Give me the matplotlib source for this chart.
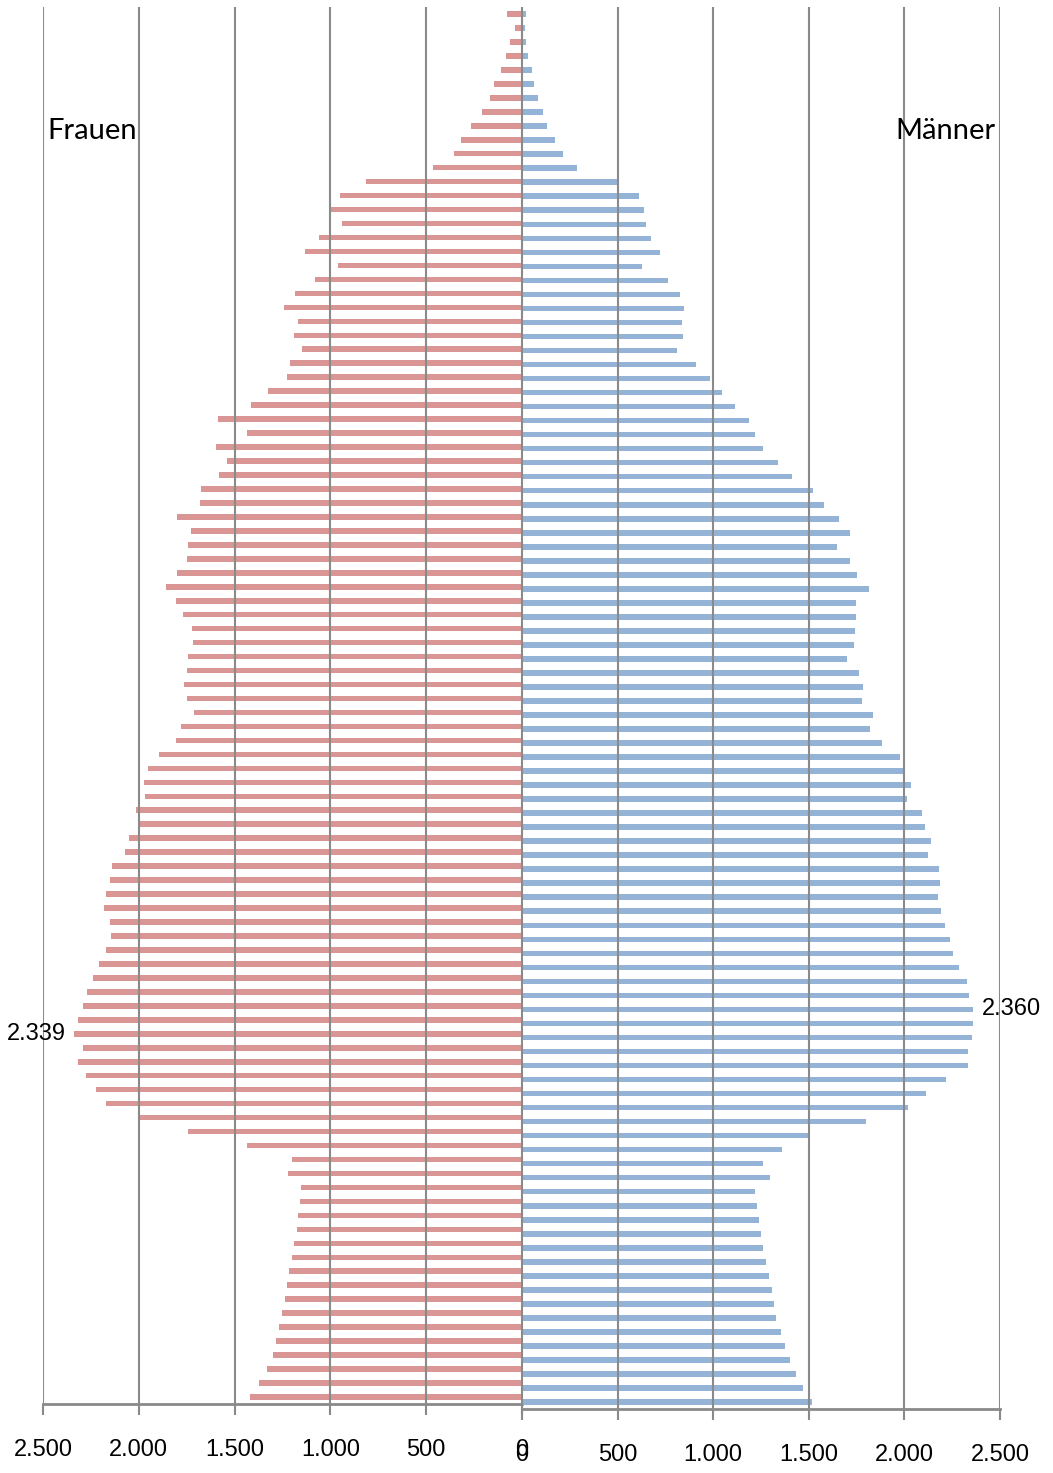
import numpy as np
import matplotlib
matplotlib.use("Agg")
import matplotlib.pyplot as plt

# Alter von oben (99) nach unten (0)
alter = list(range(99, -1, -1))

frauen = [
    76, 37, 63, 81, 109, 144, 169, 208, 264, 317,
    354, 465, 812, 952, 995, 938, 1060, 1134, 960, 1081,
    1185, 1243, 1171, 1188, 1146, 1211, 1227, 1326, 1412, 1586,
    1433, 1599, 1541, 1583, 1673, 1680, 1801, 1727, 1743, 1748,
    1803, 1857, 1805, 1768, 1722, 1718, 1745, 1746, 1764, 1746,
    1713, 1778, 1806, 1893, 1954, 1972, 1970, 2016, 1998, 2049,
    2070, 2141, 2148, 2173, 2180, 2150, 2146, 2173, 2208, 2238,
    2269, 2292, 2317, 2339, 2289, 2317, 2276, 2225, 2169, 1995,
    1741, 1437, 1202, 1220, 1153, 1157, 1169, 1176, 1190, 1202,
    1217, 1229, 1239, 1254, 1269, 1282, 1301, 1331, 1372, 1419,
]

maenner = [
    20, 14, 22, 32, 50, 63, 82, 109, 131, 172,
    215, 290, 498, 613, 636, 649, 677, 720, 625, 763,
    826, 846, 835, 840, 812, 909, 982, 1045, 1116, 1186,
    1220, 1260, 1339, 1414, 1520, 1577, 1659, 1713, 1645, 1715,
    1754, 1814, 1747, 1747, 1740, 1738, 1699, 1760, 1783, 1778,
    1837, 1821, 1882, 1977, 1998, 2037, 2016, 2093, 2107, 2138,
    2124, 2179, 2186, 2174, 2192, 2211, 2236, 2256, 2287, 2328,
    2339, 2360, 2358, 2351, 2335, 2333, 2217, 2111, 2020, 1797,
    1500, 1358, 1263, 1296, 1220, 1228, 1240, 1251, 1263, 1278,
    1294, 1308, 1319, 1331, 1353, 1378, 1401, 1432, 1471, 1518,
]

ticks = [0, 500, 1000, 1500, 2000, 2500]
tick_labels = ["0", "500", "1.000", "1.500", "2.000", "2.500"]

col_f = "#D99694"
col_m = "#95B3D7"
grid_col = "#8a8a8a"
narrow = ["Liberation Sans", "DejaVu Sans"]
num_size = 17

W, H = 1053, 1473
fig = plt.figure(figsize=(W / 100, H / 100), dpi=100)

# two charts placed side by side (in pixel coordinates)
ax_f = fig.add_axes([43 / W, 1 - 1404 / H, (522 - 43) / W, (1404 - 7) / H])
ax_m = fig.add_axes([522 / W, 1 - 1409 / H, (1000 - 522) / W, (1409 - 7) / H])
ax_f.patch.set_alpha(0)
ax_m.patch.set_alpha(0)

y = np.arange(len(alter))
ax_f.barh(y, frauen, height=0.4, color=col_f, zorder=1)
ax_m.barh(y, maenner, height=0.4, color=col_m, zorder=1)

ax_f.set_xlim(2500, 0)
ax_m.set_xlim(0, 2500)

for ax in (ax_f, ax_m):
    ax.set_ylim(len(alter) - 0.5, -0.5)
    ax.set_yticks([])
    ax.set_xticks(ticks)
    ax.set_xticklabels(tick_labels, family=narrow, fontsize=num_size)
    ax.tick_params(axis="x", length=8, width=1.5, color=grid_col, pad=17)
    ax.grid(axis="x", color=grid_col, linewidth=1.5, zorder=3)
    ax.set_axisbelow(False)
    for side in ("top", "left", "right"):
        ax.spines[side].set_visible(False)
    ax.spines["bottom"].set_color(grid_col)
    ax.spines["bottom"].set_linewidth(2)

# data labels at the maxima
i_f = int(np.argmax(frauen))
ax_f.annotate(f"{frauen[i_f]:,}".replace(",", "."), xy=(frauen[i_f], y[i_f]),
              xytext=(-6, 0), textcoords="offset points", ha="right", va="center",
              family=narrow, fontsize=num_size, annotation_clip=False)
i_m = int(np.argmax(maenner))
ax_m.annotate(f"{maenner[i_m]:,}".replace(",", "."), xy=(maenner[i_m], y[i_m]),
              xytext=(6, 0), textcoords="offset points", ha="left", va="center",
              family=narrow, fontsize=num_size, annotation_clip=False)

fig.text(47 / W, 1 - 131 / H, "Frauen", family=["Lato", "DejaVu Sans"], fontsize=21,
         ha="left", va="center")
fig.text(995 / W, 1 - 131 / H, "Männer", family=["Lato", "DejaVu Sans"], fontsize=21,
         ha="right", va="center")

fig.savefig("out.png", dpi=100)
